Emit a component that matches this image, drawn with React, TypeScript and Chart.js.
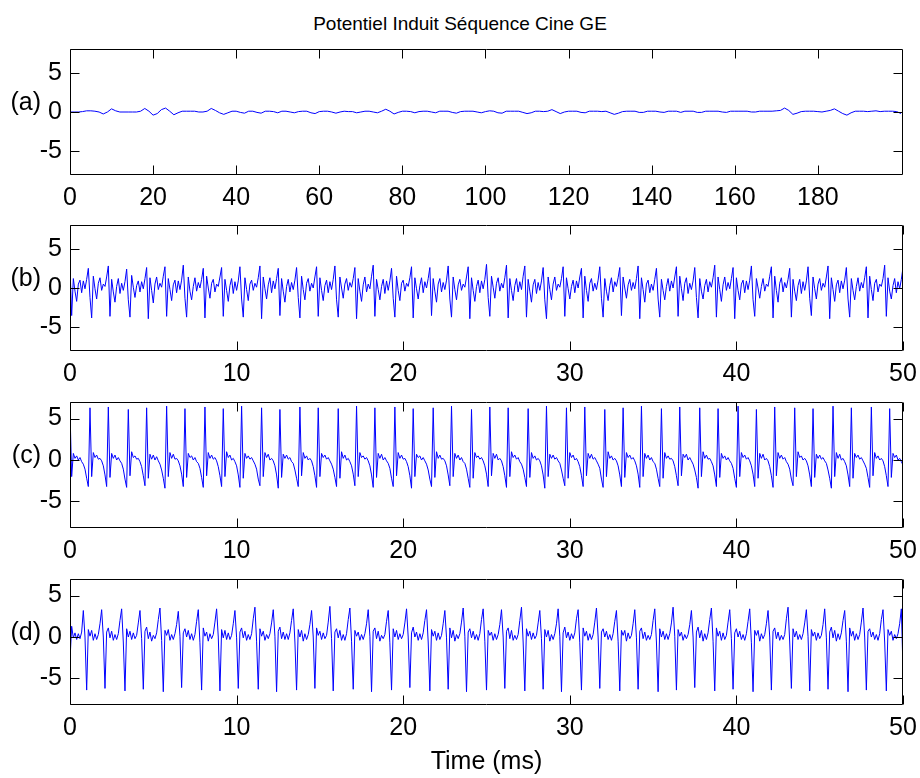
import React, { useEffect, useRef } from "react";
import { Chart, registerables } from "chart.js";

Chart.register(...registerables);

const FONT = '"Liberation Sans", Arial, Helvetica, sans-serif';

// ---------------- text ----------------
const chartTitle = "Potentiel Induit Séquence Cine GE";
const xAxisLabel = "Time (ms)";
const panelLabels = ["(a)", "(b)", "(c)", "(d)"];

// ---------------- ticks ----------------
const xTicksA = [0, 20, 40, 60, 80, 100, 120, 140, 160, 180];
const xTicksBCD = [0, 10, 20, 30, 40, 50];
const yTicks = [-5, 0, 5];

// sampling period of each record (ms)
const sampleStepA = 1;
const sampleStepBCD = 0.1;

// ---------------- series ----------------
const signalA = [
  0, 0, 0, 0.05, 0.15, 0.15, 0.1, 0, -0.25, 0,
  0.4, 0.15, 0, 0, 0, 0, 0, 0.1, 0.45, 0.1,
  -0.4, -0.2, 0.3, 0.5, 0.1, -0.35, -0.1, 0.1, 0.1, 0.1,
  0.1, 0, 0, 0.1, 0.45, 0.2, -0.1, -0.3, -0.1, 0.1,
  0.1, -0.05, -0.15, 0.1, 0.1, -0.05, -0.15, 0.1, 0.1, 0.05,
  -0.1, 0.1, 0.1, 0, -0.1, 0.05, 0.1, 0.1, -0.1, -0.2,
  0.05, 0.1, 0.1, 0, -0.15, 0, 0.1, 0.05, 0.05, -0.1,
  0, 0.1, 0.1, 0, -0.1, 0.1, 0.35, 0.1, -0.25, -0.05,
  0.1, 0.1, 0.05, -0.1, 0.05, 0.1, 0.1, 0, -0.1, 0.1,
  0.1, 0.1, -0.05, -0.15, 0.05, 0.1, 0.1, 0.1, 0, -0.1,
  0.05, 0.15, 0.1, -0.1, -0.15, 0.1, 0.1, 0.1, 0.1, -0.05,
  -0.2, -0.1, 0.1, 0.1, 0.05, 0.1, 0.3, 0.05, -0.2, 0,
  0.1, 0.1, 0.1, -0.05, -0.1, 0.1, 0.1, 0.1, 0.05, 0.1,
  -0.1, -0.3, -0.15, 0.05, 0.1, 0.1, 0.1, -0.05, -0.05, 0.1,
  0.1, 0.1, 0, -0.05, 0.1, 0.1, 0.1, -0.05, 0.1, 0.1,
  0.1, -0.05, -0.05, 0.1, 0.1, 0.1, 0.1, 0, -0.05, 0.1,
  0.1, 0.1, 0.1, 0.1, 0, 0, 0.1, 0.1, 0.1, 0.1,
  0.15, 0.2, 0.5, 0.2, -0.3, -0.15, 0.05, 0.1, 0.1, 0.1,
  0.05, 0, 0.1, 0.2, 0.4, 0.1, -0.2, -0.4, -0.1, 0.1,
  0.1, 0.1, 0.05, 0.1, 0.15, 0.05, 0.1, 0.1, 0.1, 0.05,
  -0.2,
];

const signalB = [
  2.6,
  -3.5, 1.2, -0.4, -1.7, 0.5, 1.0, -0.6, 0.9, -0.1, 1.1, 2.5, -1.2,
  -3.8, 1.5, -0.1, -1.4, 0.6, 1.3, -0.3, 0.5, 0.2, 1.4, 2.8,
  -3.6, 1.1, -0.5, -1.8, 0.2, 1.2, -0.7, 0.6, -0.3, 0.8, 2.4, -1.5,
  -3.7, 1.6, 0.1, -1.2, 0.3, 0.9, -0.5, 0.8, -0.1, 1.2, 2.6,
  -3.9, 1.3, -0.3, -1.9, 0.5, 1.4, -0.2, 0.6, 0.1, 1.5, 2.7,
  -3.6, 1.2, -0.2, -1.6, 0.4, 1.0, -0.6, 0.9, -0.2, 1.0, 2.9, -1.3,
  -3.7, 1.4, -0.4, -1.5, 0.2, 1.3, -0.4, 0.7, 0.0, 1.1, 2.5,
  -3.8, 1.5, 0.0, -1.3, 0.6, 1.1, -0.5, 0.5, 0.2, 1.4, 2.6,
  -3.6, 1.1, -0.3, -1.7, 0.3, 1.2, -0.7, 0.8, -0.3, 0.9, 2.7, -1.4,
  -3.7, 1.3, -0.2, -1.6, 0.5, 1.0, -0.3, 0.6, 0.1, 1.3, 2.8,
  -3.9, 1.4, -0.1, -1.4, 0.4, 1.3, -0.6, 0.9, -0.1, 1.2, 2.5,
  -3.5, 1.2, -0.4, -1.8, 0.2, 1.1, -0.5, 0.7, -0.2, 1.0, 2.6, -1.2,
  -3.8, 1.5, -0.2, -1.5, 0.6, 1.2, -0.4, 0.6, 0.0, 1.4, 2.7,
  -3.6, 1.3, -0.3, -1.6, 0.3, 1.0, -0.6, 0.8, -0.2, 1.1, 2.8, -1.5,
  -3.7, 1.4, 0.0, -1.3, 0.5, 1.2, -0.3, 0.7, 0.1, 1.2, 2.6,
  -3.9, 1.2, -0.4, -1.7, 0.4, 1.4, -0.5, 0.5, -0.1, 1.5, 2.9,
  -3.6, 1.1, -0.2, -1.5, 0.2, 1.1, -0.7, 0.9, -0.3, 0.9, 2.5, -1.3,
  -3.7, 1.5, -0.3, -1.6, 0.6, 1.0, -0.4, 0.6, 0.2, 1.3, 2.7,
  -3.8, 1.3, -0.1, -1.4, 0.3, 1.3, -0.6, 0.8, 0.0, 1.2, 2.6,
  -3.5, 1.2, -0.4, -1.8, 0.5, 1.2, -0.5, 0.7, -0.2, 1.0, 2.8, -1.4,
  -3.7, 1.4, -0.2, -1.5, 0.4, 1.1, -0.3, 0.5, 0.1, 1.4, 2.7,
  -3.9, 1.3, -0.3, -1.7, 0.2, 1.0, -0.6, 0.9, -0.1, 1.1, 3.0, -1.2,
  -3.6, 1.5, 0.1, -1.3, 0.6, 1.3, -0.4, 0.6, 0.0, 1.3, 2.9,
  -3.8, 1.2, -0.3, -1.6, 0.3, 1.2, -0.5, 0.8, -0.2, 1.5, 2.8,
  -3.7, 1.1, -0.4, -1.8, 0.4, 1.1, -0.7, 0.7, -0.3, 0.9, 2.6, -1.5,
  -3.9, 1.4, -0.2, -1.5, 0.5, 1.4, -0.3, 0.5, 0.1, 1.2, 2.7,
  -3.6, 1.3, -0.1, -1.4, 0.2, 1.0, -0.6, 0.9, 0.0, 1.4, 2.5,
  -3.8, 1.5, -0.3, -1.7, 0.6, 1.2, -0.4, 0.6, -0.2, 1.0, 2.7, -1.3,
  -3.7, 1.2, -0.4, -1.6, 0.3, 1.3, -0.5, 0.8, 0.2, 1.3, 2.6,
  -3.5, 1.4, 0.0, -1.3, 0.4, 1.1, -0.3, 0.7, -0.1, 1.2, 2.8,
  -3.9, 1.3, -0.2, -1.8, 0.5, 1.0, -0.6, 0.5, -0.3, 1.1, 2.5, -1.4,
  -3.7, 1.1, -0.3, -1.5, 0.2, 1.2, -0.4, 0.9, 0.0, 1.4, 2.7,
  -3.6, 1.5, -0.1, -1.6, 0.6, 1.3, -0.7, 0.6, -0.2, 0.9, 2.6, -1.2,
  -3.8, 1.2, -0.4, -1.4, 0.3, 1.1, -0.5, 0.8, 0.1, 1.3, 2.9,
  -3.7, 1.4, -0.2, -1.7, 0.4, 1.4, -0.3, 0.7, -0.1, 1.2, 2.6,
  -3.9, 1.3, -0.3, -1.5, 0.5, 1.0, -0.6, 0.9, -0.2, 1.0, 2.8, -1.5,
  -3.6, 1.2, 0.0, -1.3, 0.2, 1.2, -0.4, 0.5, 0.2, 1.5, 2.7,
  -3.8, 1.5, -0.3, -1.8, 0.6, 1.3, -0.5, 0.7, 0.0, 1.1, 2.5,
  -3.7, 1.1, -0.4, -1.6, 0.3, 1.1, -0.7, 0.8, -0.3, 0.9, 2.7, -1.3,
  -3.5, 1.4, -0.1, -1.4, 0.5, 1.2, -0.3, 0.6, 0.1, 1.4, 2.8,
  -3.9, 1.3, -0.2, -1.7, 0.4, 1.0, -0.6, 0.9, -0.1, 1.0, 2.6, -1.4,
  -3.7, 1.2, -0.3, -1.5, 0.2, 1.3, -0.4, 0.7, 0.0, 1.3, 2.7,
  -3.8, 1.5, -0.2, -1.6, 0.6, 1.1, -0.5, 0.5, 0.2, 1.2, 2.9,
  -3.6, 1.3, -0.4, -1.4, 0.3, 1.2, -0.6, 0.8, -0.1, 1.1, 2.6,
];

const signalC = [
  6.0, -2.0, 0.8, 0.2, 0.5, 0.0, 0.3, -0.2, -0.5, -1.1, -2.2, -3.2,
  6.3, -2.0, 0.9, 0.3, 0.6, 0.1, 0.2, -0.1, -0.7, -1.8, -3.2,
  6.4, -2.1, 0.8, 0.2, 0.6, 0.0, 0.3, -0.1, -0.4, -1.1, -2.3, -3.3,
  6.1, -1.9, 1.0, 0.3, 0.5, 0.1, 0.2, -0.2, -0.8, -1.9, -3.1,
  6.3, -2.2, 0.7, 0.1, 0.6, 0.0, 0.4, -0.1, -0.5, -1.2, -2.2, -3.4,
  6.5, -2.0, 0.9, 0.2, 0.7, 0.1, 0.2, -0.1, -0.7, -1.7, -3.2,
  6.2, -2.1, 0.8, 0.3, 0.5, 0.0, 0.3, -0.2, -0.4, -1.0, -2.1, -3.3,
  6.4, -1.9, 0.9, 0.2, 0.6, 0.1, 0.3, -0.1, -0.8, -1.9, -3.2,
  6.2, -2.0, 1.0, 0.3, 0.6, 0.0, 0.2, -0.2, -0.7, -1.8, -3.3,
  6.5, -2.2, 0.8, 0.2, 0.5, 0.1, 0.3, -0.1, -0.5, -1.1, -2.3, -3.1,
  6.3, -2.0, 0.9, 0.3, 0.7, 0.0, 0.2, -0.1, -0.7, -1.8, -3.4,
  6.1, -2.1, 0.7, 0.2, 0.6, 0.1, 0.3, -0.2, -0.4, -1.2, -2.2, -3.2,
  6.4, -1.9, 0.9, 0.2, 0.5, 0.0, 0.2, -0.1, -0.8, -1.9, -3.3,
  6.3, -2.0, 0.8, 0.3, 0.6, 0.1, 0.3, -0.1, -0.5, -1.1, -2.1, -3.2,
  6.2, -2.2, 1.0, 0.2, 0.6, 0.0, 0.2, -0.2, -0.7, -1.7, -3.1,
  6.5, -2.0, 0.9, 0.3, 0.5, 0.1, 0.3, -0.1, -0.7, -1.8, -3.3,
  6.3, -2.1, 0.8, 0.2, 0.7, 0.0, 0.3, -0.1, -0.4, -1.0, -2.2, -3.2,
  6.4, -1.9, 0.9, 0.2, 0.6, 0.1, 0.2, -0.2, -0.8, -1.9, -3.4,
  6.2, -2.0, 0.7, 0.3, 0.5, 0.0, 0.3, -0.1, -0.5, -1.2, -2.3, -3.2,
  6.3, -2.1, 1.0, 0.2, 0.6, 0.1, 0.2, -0.1, -0.7, -1.8, -3.1,
  6.5, -2.0, 0.8, 0.2, 0.6, 0.0, 0.3, -0.2, -0.4, -1.1, -2.2, -3.3,
  6.1, -2.2, 0.9, 0.3, 0.5, 0.1, 0.3, -0.1, -0.7, -1.7, -3.2,
  6.4, -1.9, 0.8, 0.2, 0.7, 0.0, 0.2, -0.1, -0.8, -1.9, -3.3,
  6.3, -2.0, 1.0, 0.3, 0.6, 0.1, 0.3, -0.2, -0.5, -1.1, -2.1, -3.2,
  6.2, -2.1, 0.9, 0.2, 0.5, 0.0, 0.2, -0.1, -0.7, -1.8, -3.4,
  6.5, -2.0, 0.7, 0.2, 0.6, 0.1, 0.3, -0.1, -0.4, -1.2, -2.2, -3.1,
  6.3, -2.2, 0.9, 0.3, 0.6, 0.0, 0.2, -0.2, -0.8, -1.9, -3.2,
  6.4, -1.9, 0.8, 0.2, 0.7, 0.1, 0.3, -0.1, -0.5, -1.0, -2.3, -3.3,
  6.1, -2.0, 1.0, 0.2, 0.5, 0.0, 0.2, -0.1, -0.7, -1.8, -3.2,
  6.3, -2.1, 0.9, 0.3, 0.6, 0.1, 0.3, -0.1, -0.7, -1.7, -3.3,
  6.5, -2.0, 0.8, 0.2, 0.6, 0.0, 0.3, -0.2, -0.4, -1.1, -2.2, -3.2,
  6.2, -2.2, 0.9, 0.2, 0.5, 0.1, 0.2, -0.1, -0.8, -1.9, -3.1,
  6.4, -1.9, 0.7, 0.3, 0.7, 0.0, 0.3, -0.1, -0.5, -1.2, -2.1, -3.4,
  6.3, -2.0, 1.0, 0.2, 0.6, 0.1, 0.2, -0.2, -0.7, -1.8, -3.2,
  6.2, -2.1, 0.8, 0.2, 0.5, 0.0, 0.3, -0.1, -0.4, -1.0, -2.2, -3.3,
  6.5, -2.0, 0.9, 0.3, 0.6, 0.1, 0.3, -0.1, -0.7, -1.7, -3.2,
  6.1, -2.2, 0.8, 0.2, 0.7, 0.0, 0.2, -0.1, -0.8, -1.9, -3.3,
  6.4, -1.9, 0.9, 0.2, 0.6, 0.1, 0.3, -0.2, -0.5, -1.1, -2.3, -3.1,
  6.3, -2.0, 1.0, 0.3, 0.5, 0.0, 0.2, -0.1, -0.7, -1.8, -3.2,
  6.2, -2.1, 0.7, 0.2, 0.6, 0.1, 0.3, -0.1, -0.4, -1.2, -2.2, -3.4,
  6.5, -2.0, 0.9, 0.2, 0.7, 0.0, 0.2, -0.2, -0.7, -1.8, -3.2,
  6.3, -2.2, 0.8, 0.3, 0.6, 0.1, 0.3, -0.1, -0.5, -1.0, -2.1, -3.3,
  6.4, -1.9, 0.9, 0.2, 0.5, 0.0, 0.2, -0.1, -0.8, -1.9, -3.2,
  6.2, -2.1, 0.8, 0.3, 0.6, 0.0, 0.2, -0.2, -0.6,
];

const signalD = [
  -2.8, 1.3, -0.1, 0.5, -0.3, 0.4, -0.2, 0.6, 3.2, 0.0,
  -6.4, 0.9, 0.1, 0.8, -0.4, 0.4, -0.3, 0.3, 1.6, 3.3, 0.0,
  -6.2, 0.6, 1.1, -0.1, 0.7, -0.4, 0.3, -0.3, 0.4, 2.0, 3.4, -0.6,
  -6.5, 1.0, 0.0, 0.7, -0.3, 0.5, -0.2, 0.2, 1.7, 3.2, -0.2,
  -6.3, 0.7, 1.2, -0.2, 0.6, -0.5, 0.2, -0.2, 0.5, 2.1, 3.5, -0.4,
  -6.6, 0.8, 0.2, 0.9, -0.4, 0.3, -0.3, 0.4, 1.5, 3.1, 0.1,
  -6.1, 0.5, 1.0, 0.0, 0.8, -0.3, 0.4, -0.4, 0.3, 1.9, 3.3, -0.7,
  -6.4, 1.1, 0.1, 0.6, -0.5, 0.4, -0.2, 0.3, 1.8, 3.4, 0.0,
  -6.5, 0.9, -0.1, 0.8, -0.3, 0.5, -0.3, 0.2, 1.6, 3.2, -0.1,
  -6.2, 0.6, 1.1, -0.1, 0.7, -0.4, 0.3, -0.3, 0.4, 2.2, 3.6, -0.5,
  -6.3, 1.0, 0.1, 0.7, -0.4, 0.3, -0.2, 0.4, 1.7, 3.3, 0.1,
  -6.6, 0.7, 1.2, -0.2, 0.6, -0.3, 0.4, -0.3, 0.5, 2.0, 3.4, -0.6,
  -6.4, 0.9, 0.0, 0.8, -0.5, 0.4, -0.3, 0.3, 1.5, 3.2, 0.0,
  -6.2, 1.1, 0.2, 0.7, -0.3, 0.5, -0.2, 0.2, 1.8, 3.7, -0.2,
  -6.5, 0.6, 1.0, -0.1, 0.8, -0.4, 0.3, -0.4, 0.4, 2.1, 3.5, -0.5,
  -6.3, 0.8, 0.1, 0.6, -0.4, 0.3, -0.3, 0.4, 1.6, 3.3, 0.1,
  -6.6, 0.7, 1.1, -0.2, 0.7, -0.5, 0.2, -0.2, 0.3, 1.9, 3.2, -0.7,
  -6.4, 1.0, 0.0, 0.8, -0.3, 0.4, -0.2, 0.3, 1.7, 3.4, 0.0,
  -6.1, 0.5, 1.2, 0.0, 0.6, -0.4, 0.4, -0.3, 0.5, 2.0, 3.3, -0.6,
  -6.5, 0.9, 0.1, 0.7, -0.4, 0.5, -0.3, 0.2, 1.6, 3.2, -0.1,
  -6.3, 1.1, -0.1, 0.8, -0.5, 0.3, -0.2, 0.4, 1.8, 3.5, 0.1,
  -6.6, 0.6, 1.0, -0.1, 0.7, -0.3, 0.3, -0.4, 0.4, 2.1, 3.4, -0.5,
  -6.4, 0.8, 0.2, 0.6, -0.4, 0.4, -0.3, 0.3, 1.5, 3.3, 0.0,
  -6.2, 0.7, 1.1, -0.2, 0.8, -0.4, 0.2, -0.3, 0.3, 2.0, 3.6, -0.6,
  -6.5, 1.0, 0.1, 0.7, -0.3, 0.5, -0.2, 0.2, 1.7, 3.2, -0.2,
  -6.3, 0.9, 0.0, 0.8, -0.5, 0.3, -0.3, 0.4, 1.6, 3.4, 0.1,
  -6.6, 0.5, 1.2, -0.1, 0.6, -0.4, 0.4, -0.2, 0.5, 2.2, 3.3, -0.7,
  -6.4, 1.1, 0.1, 0.7, -0.4, 0.4, -0.3, 0.3, 1.8, 3.5, 0.0,
  -6.2, 0.6, 1.0, 0.0, 0.7, -0.3, 0.3, -0.4, 0.4, 1.9, 3.2, -0.5,
  -6.5, 0.8, 0.2, 0.8, -0.5, 0.5, -0.2, 0.2, 1.6, 3.3, -0.1,
  -6.3, 0.7, 1.1, -0.2, 0.6, -0.4, 0.2, -0.3, 0.3, 2.0, 3.4, -0.6,
  -6.6, 1.0, 0.0, 0.7, -0.3, 0.4, -0.3, 0.4, 1.7, 3.6, 0.1,
  -6.4, 0.9, 0.1, 0.6, -0.4, 0.3, -0.2, 0.3, 1.5, 3.2, 0.0,
  -6.1, 0.6, 1.2, -0.1, 0.8, -0.5, 0.4, -0.3, 0.5, 2.1, 3.5, -0.5,
  -6.5, 1.1, 0.1, 0.7, -0.4, 0.5, -0.3, 0.2, 1.8, 3.3, -0.2,
  -6.3, 0.5, 1.0, 0.0, 0.7, -0.3, 0.3, -0.4, 0.4, 1.9, 3.4, -0.7,
  -6.6, 0.8, 0.2, 0.8, -0.5, 0.4, -0.2, 0.3, 1.6, 3.2, 0.0,
  -6.4, 0.7, 1.1, -0.2, 0.6, -0.4, 0.2, -0.3, 0.3, 2.2, 3.6, -0.6,
  -6.2, 1.0, 0.0, 0.7, -0.3, 0.3, -0.3, 0.4, 1.7, 3.3, 0.1,
  -6.5, 0.9, 0.1, 0.6, -0.4, 0.5, -0.2, 0.2, 1.5, 3.4, -0.1,
  -6.3, 0.6, 1.2, -0.1, 0.8, -0.5, 0.4, -0.3, 0.5, 2.0, 3.2, -0.5,
  -6.6, 1.1, 0.1, 0.7, -0.4, 0.4, -0.3, 0.3, 1.8, 3.5, 0.0,
  -6.4, 0.7, 1.0, 0.0, 0.6, -0.3, 0.3, -0.4, 0.4, 2.1, 3.3, -0.6,
  -6.5, 0.9, 0.2, 0.7, -0.4, 0.3, -0.2, 0.4, 1.6, 3.4, -4.0,
];

// ---------------- layout (positions / sizes) ----------------
const CANVAS_W = 920;
const PLOT_LEFT = 70;
const PLOT_RIGHT = 903;
const PLOT_H = 126;
const PAD_TOP = 16;
const XAXIS_H = 44;
const CANVAS_H = PAD_TOP + PLOT_H + XAXIS_H;
const TICK_LEN = 9;
const LINE_COLOR = "#0000ff";
const TICK_FONT_SIZE = 25;

type PanelCfg = {
  label: string;
  values: number[];
  step: number;
  xMax: number;
  xTicks: number[];
  yMin: number;
  yMax: number;
  top: number;
};

const panels: PanelCfg[] = [
  { label: panelLabels[0], values: signalA, step: sampleStepA, xMax: 200.5, xTicks: xTicksA, yMin: -8, yMax: 8, top: 49 },
  { label: panelLabels[1], values: signalB, step: sampleStepBCD, xMax: 50, xTicks: xTicksBCD, yMin: -8, yMax: 8, top: 225 },
  { label: panelLabels[2], values: signalC, step: sampleStepBCD, xMax: 50, xTicks: xTicksBCD, yMin: -8.2, yMax: 7, top: 402 },
  { label: panelLabels[3], values: signalD, step: sampleStepBCD, xMax: 50, xTicks: xTicksBCD, yMin: -8.2, yMax: 7, top: 579 },
];

const matlabAxesPlugin = {
  id: "matlabAxes",
  afterDraw(chart: any) {
    const { ctx, chartArea } = chart;
    const { left, right, top, bottom } = chartArea;
    const xs = chart.scales.x;
    const ys = chart.scales.y;
    ctx.save();
    ctx.strokeStyle = "#000";
    ctx.lineWidth = 1;
    const L = Math.round(left) + 0.5;
    const R = Math.round(right) - 0.5;
    const T = Math.round(top) + 0.5;
    const B = Math.round(bottom) - 0.5;
    ctx.beginPath();
    ctx.rect(L, T, R - L, B - T);
    for (const t of xs.ticks) {
      const px = Math.round(xs.getPixelForValue(t.value)) + 0.5;
      ctx.moveTo(px, B);
      ctx.lineTo(px, B - TICK_LEN);
      ctx.moveTo(px, T);
      ctx.lineTo(px, T + TICK_LEN);
    }
    for (const t of ys.ticks) {
      const py = Math.round(ys.getPixelForValue(t.value)) + 0.5;
      ctx.moveTo(L, py);
      ctx.lineTo(L + TICK_LEN, py);
      ctx.moveTo(R, py);
      ctx.lineTo(R - TICK_LEN, py);
    }
    ctx.stroke();
    ctx.restore();
  },
};

function Panel({ cfg }: { cfg: PanelCfg }) {
  const ref = useRef<HTMLCanvasElement | null>(null);
  useEffect(() => {
    const canvas = ref.current;
    if (!canvas) return;
    const points = cfg.values.map((v, i) => ({ x: Math.round(i * cfg.step * 1000) / 1000, y: v }));
    const tickFont = { family: FONT, size: TICK_FONT_SIZE };
    const chart = new Chart(canvas, {
      type: "line",
      data: {
        datasets: [
          {
            data: points,
            borderColor: LINE_COLOR,
            borderWidth: 1,
            pointRadius: 0,
            fill: false,
            tension: 0,
          },
        ],
      },
      options: {
        responsive: false,
        animation: false,
        parsing: false,
        layout: { padding: { top: PAD_TOP, right: CANVAS_W - PLOT_RIGHT, left: 0, bottom: 0 } },
        plugins: { legend: { display: false }, tooltip: { enabled: false }, title: { display: false } },
        scales: {
          x: {
            type: "linear",
            min: 0,
            max: cfg.xMax,
            grid: { display: false, drawTicks: false },
            border: { display: false },
            ticks: { font: tickFont, color: "#000", padding: 8, maxRotation: 0, autoSkip: false },
            afterBuildTicks: (s: any) => {
              s.ticks = cfg.xTicks.map((v) => ({ value: v }));
            },
            afterFit: (s: any) => {
              s.height = XAXIS_H;
              s.paddingLeft = 0;
              s.paddingRight = 0;
            },
          },
          y: {
            type: "linear",
            min: cfg.yMin,
            max: cfg.yMax,
            grid: { display: false, drawTicks: false },
            border: { display: false },
            ticks: { font: tickFont, color: "#000", padding: 8 },
            afterBuildTicks: (s: any) => {
              s.ticks = yTicks.map((v) => ({ value: v }));
            },
            afterFit: (s: any) => {
              s.width = PLOT_LEFT;
              s.paddingTop = 0;
              s.paddingBottom = 0;
            },
          },
        },
      } as any,
      plugins: [matlabAxesPlugin],
    });
    return () => chart.destroy();
  }, [cfg]);
  return (
    <canvas
      ref={ref}
      width={CANVAS_W}
      height={CANVAS_H}
      style={{ position: "absolute", left: 0, top: cfg.top - PAD_TOP, width: CANVAS_W, height: CANVAS_H }}
    />
  );
}

export default function App() {
  return (
    <div
      style={{
        position: "absolute",
        left: 0,
        top: 0,
        width: CANVAS_W,
        height: 778,
        background: "#fff",
        fontFamily: FONT,
        color: "#000",
        overflow: "hidden",
      }}
    >
      <div style={{ position: "absolute", left: 0, top: 12, width: CANVAS_W, textAlign: "center", fontSize: 19, lineHeight: "24px" }}>
        {chartTitle}
      </div>
      {panels.map((p) => (
        <Panel key={p.label} cfg={p} />
      ))}
      {panels.map((p) => (
        <div
          key={"lbl" + p.label}
          style={{
            position: "absolute",
            left: 0,
            width: 41,
            top: p.top + PLOT_H / 2 - 9 - 16,
            textAlign: "right",
            fontSize: TICK_FONT_SIZE,
            lineHeight: "28px",
            whiteSpace: "nowrap",
          }}
        >
          {p.label}
        </div>
      ))}
      <div
        style={{
          position: "absolute",
          left: PLOT_LEFT,
          width: PLOT_RIGHT - PLOT_LEFT,
          top: 746,
          textAlign: "center",
          fontSize: TICK_FONT_SIZE,
          lineHeight: "28px",
        }}
      >
        {xAxisLabel}
      </div>
    </div>
  );
}
